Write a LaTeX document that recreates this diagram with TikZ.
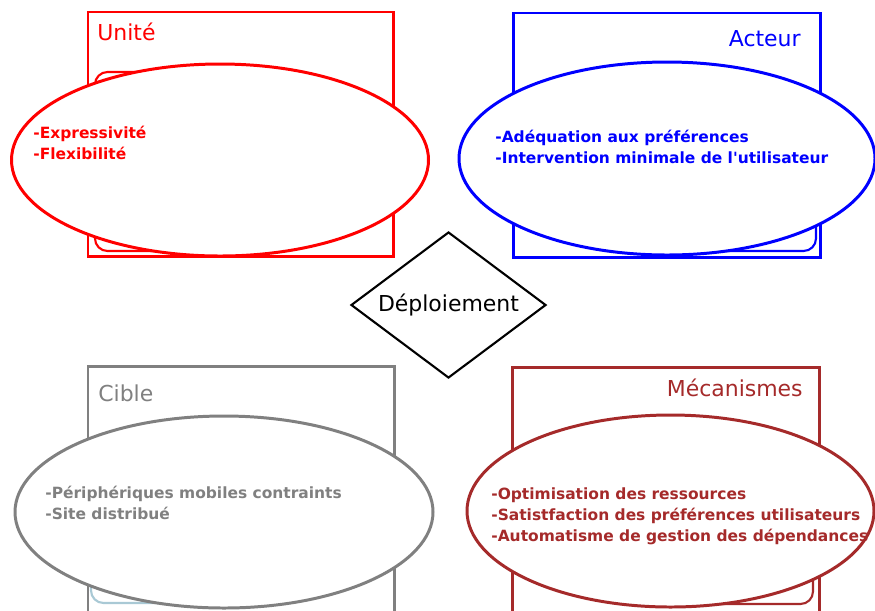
\documentclass[tikz,border=0pt]{standalone}
\usepackage{fontspec}
\setmainfont{DejaVu Sans}[Ligatures=TeXOff]
\usetikzlibrary{shapes.geometric}

\definecolor{gris}{HTML}{808080}
\definecolor{brique}{HTML}{A52A2A}
\definecolor{bleuclair}{HTML}{A9C9D5}

\tikzset{
  cadre/.style={line width=1.7pt},
  coin/.style={line width=1.2pt, rounded corners=0.25cm},
  bulle/.style={line width=1.7pt, fill=white},
  titre/.style={inner sep=0pt, font=\fontsize{12.5}{15}\selectfont},
  liste/.style={inner sep=0pt, align=left, font=\fontsize{8.8}{11.95}\selectfont\bfseries}
}

\begin{document}
\begin{tikzpicture}

\useasboundingbox (0,0) rectangle (17.5,-12.2);

%Unite
\draw[red, cadre] (1.76,-0.24) rectangle (7.86,-5.12);
\draw[red, coin] (1.90,-1.44) rectangle (5.40,-5.02);
\draw[red, bulle] (4.40,-3.20) ellipse (4.17cm and 1.92cm);

%Acteur
\draw[blue, cadre] (10.26,-0.26) rectangle (16.40,-5.14);
\draw[blue, coin] (12.80,-2.00) rectangle (16.32,-5.02);
\draw[blue, bulle] (13.34,-3.17) ellipse (4.16cm and 1.93cm);

%Cible
\draw[gris, cadre] (1.76,-7.32) rectangle (7.88,-12.35);
\draw[bleuclair, coin] (1.82,-8.90) rectangle (5.30,-12.06);
\draw[gris, bulle] (4.48,-10.24) ellipse (4.18cm and 1.92cm);

%Mecanismes
\draw[brique, cadre] (10.24,-7.34) rectangle (16.38,-12.35);
\draw[brique, coin] (12.80,-8.90) rectangle (16.26,-12.08);
\draw[brique, bulle] (13.41,-10.22) ellipse (4.07cm and 1.92cm);

%Beschriftung
\node[titre, red, anchor=west] (unite) at (1.94,-0.64) {Unité};
\node[titre, blue, anchor=east] (acteur) at (16.02,-0.78) {Acteur};
\node[titre, gris, anchor=west] (cible) at (1.96,-7.86) {Cible};
\node[titre, brique, anchor=east] (meca) at (16.06,-7.76) {Mécanismes};

\node[liste, red, anchor=north west] (l-unite) at (0.66,-2.52)
  {-Expressivité\\-Flexibilité};
\node[liste, blue, anchor=north west] (l-acteur) at (9.90,-2.60)
  {-Adéquation aux préférences\\-Intervention minimale de l'utilisateur};
\node[liste, gris, anchor=north west] (l-cible) at (0.90,-9.72)
  {-Périphériques mobiles contraints\\-Site distribué};
\node[liste, brique, anchor=north west] (l-meca) at (9.82,-9.74)
  {-Optimisation des ressources\\-Satistfaction des préférences utilisateurs\\-Automatisme de gestion des dépendances};

%Zentrum
\node[diamond, draw, line width=1.2pt, aspect=1.4, inner sep=0pt,
  minimum width=3.9cm, minimum height=2.92cm, fill=white,
  font=\fontsize{12.5}{15}\selectfont] (deploi) at (8.97,-6.10) {Déploiement};

\end{tikzpicture}
\end{document}
